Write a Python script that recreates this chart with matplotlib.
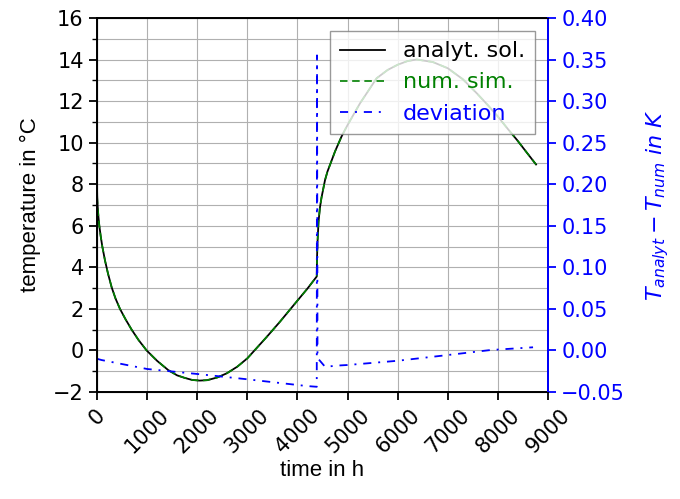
import matplotlib.pyplot as plt
from matplotlib.ticker import MultipleLocator

# analytical solution / numerical simulation (time in h, temperature in degC)
time_h = [0, 5, 12, 30, 47, 75, 106, 160, 220, 293, 370, 459, 570, 692, 830, 991,
          1200, 1424, 1600, 1750, 1900, 2050, 2200, 2400, 2590, 2800, 3000, 3390,
          3650, 4000, 4200, 4385, 4390, 4400, 4420, 4450, 4480, 4550, 4600, 4660,
          4750, 4880, 5000, 5250, 5580, 5800, 6000, 6200, 6380, 6700, 7000, 7300,
          7580, 7800, 8000, 8200, 8380, 8550, 8760]
temp_analyt = [8.0, 7.35, 7.0, 6.41, 6.0, 5.49, 5.01, 4.33, 3.7, 3.04, 2.5, 2.0, 1.5, 1.0,
               0.5, 0.0, -0.5, -0.95, -1.2, -1.32, -1.42, -1.45, -1.43, -1.3, -1.1, -0.78,
               -0.38, 0.66, 1.38, 2.4, 2.98, 3.56, 4.45, 5.2, 6.2, 6.9, 7.36, 8.2, 8.62, 9.0,
               9.58, 10.3, 10.85, 11.9, 13.1, 13.5, 13.75, 13.93, 14.0, 13.88, 13.58, 13.05,
               12.37, 11.8, 11.25, 10.65, 10.13, 9.6, 8.95]
temp_num = [8.0, 7.35, 7.0, 6.41, 6.0, 5.49, 5.01, 4.33, 3.7, 3.04, 2.5, 2.0, 1.5, 1.0,
            0.5, 0.0, -0.5, -0.95, -1.2, -1.32, -1.42, -1.45, -1.43, -1.3, -1.1, -0.78,
            -0.38, 0.66, 1.38, 2.4, 2.98, 3.56, 4.45, 5.2, 6.2, 6.9, 7.36, 8.2, 8.62, 9.0,
            9.58, 10.3, 10.85, 11.9, 13.1, 13.5, 13.75, 13.93, 14.0, 13.88, 13.58, 13.05,
            12.37, 11.8, 11.25, 10.65, 10.13, 9.6, 8.95]

# deviation T_analyt - T_num in K
time_dev = [0, 90, 1000, 2000, 3000, 4185, 4385, 4390, 4400, 4550, 4850, 5000, 6000,
            7000, 7850, 8700]
deviation = [-0.010, -0.0115, -0.0223, -0.0283, -0.0347, -0.0428, -0.0437, 0.355, -0.009,
             -0.0196, -0.018, -0.0175, -0.0124, -0.0055, 0.0005, 0.0038]

label_font = "Liberation Sans"

fig, ax = plt.subplots(figsize=(6.8, 4.99), dpi=100)
fig.subplots_adjust(left=0.1426, right=0.806, top=0.964, bottom=0.2144)

l1, = ax.plot(time_h, temp_analyt, color="black", linewidth=1.3, label="analyt. sol.")
l2, = ax.plot(time_h, temp_num, color="green", linewidth=1.2,
              linestyle=(0, (4.5, 2.8)), label="num. sim.")
ax.set_xlim(0, 9000)
ax.set_ylim(-2, 16)
ax.xaxis.set_major_locator(MultipleLocator(1000))
ax.yaxis.set_major_locator(MultipleLocator(2))
ax.yaxis.set_minor_locator(MultipleLocator(1))
ax.grid(True, which="both", color="#b0b0b0", linewidth=0.8)
ax.set_axisbelow(True)
ax.tick_params(axis="both", which="major", labelsize=15, length=6, width=1.3)
ax.tick_params(axis="y", which="minor", length=3.5, width=1.0)
ax.tick_params(axis="x", labelrotation=45)
for s in ax.spines.values():
    s.set_linewidth(1.4)
ax.set_xlabel("time in h", fontsize=16, family=label_font, labelpad=2)
ax.set_ylabel("temperature in °C", fontsize=16, family=label_font, labelpad=9)

ax2 = ax.twinx()
l3, = ax2.plot(time_dev, deviation, color="blue", linewidth=1.3,
               linestyle=(0, (4.5, 3.8, 1.1, 3.8)), label="deviation")
ax2.set_ylim(-0.05, 0.40)
ax2.yaxis.set_major_locator(MultipleLocator(0.05))
ax2.tick_params(axis="y", labelsize=15, length=6, width=1.3, colors="blue")
ax2.spines["right"].set_color("blue")
ax2.spines["right"].set_linewidth(1.4)
ax2.set_ylabel(r"$T_{analyt} - T_{num}\ in\ K$", fontsize=16, color="blue", labelpad=14)

leg = ax2.legend(handles=[l1, l2, l3], loc="upper right", fontsize=16,
                 fancybox=False, framealpha=0.8, edgecolor="#808080",
                 borderaxespad=0.57, borderpad=0.48, labelspacing=0.5)
for text, c in zip(leg.get_texts(), ["black", "green", "blue"]):
    text.set_color(c)

fig.savefig("out.png", dpi=100)
